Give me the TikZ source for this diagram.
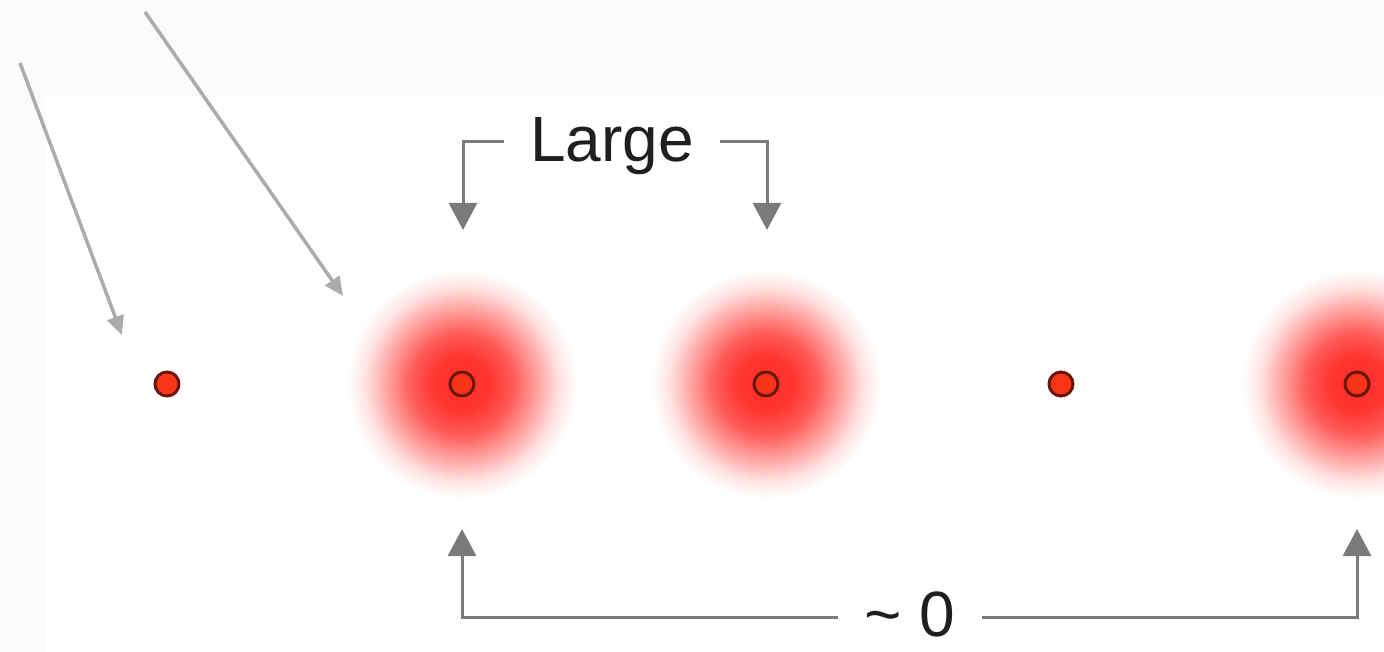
\documentclass[tikz,border=0pt]{standalone}
\usepackage{fontspec}
\setmainfont{Liberation Sans}
\usetikzlibrary{arrows.meta}
\definecolor{dotred}{RGB}{250,52,22}
\definecolor{dotedge}{RGB}{105,22,6}
\definecolor{glowred}{RGB}{255,45,40}
\pgfdeclareradialshading{glow}{\pgfpoint{0bp}{0bp}}{color(0bp)=(glowred); color(6bp)=(glowred!96!white); color(11bp)=(glowred!78!white); color(16bp)=(glowred!46!white); color(21bp)=(glowred!14!white); color(25bp)=(white); color(50bp)=(white)}

\begin{document}
\begin{tikzpicture}[x=1pt,y=-1pt,
 dot/.style={circle,draw=dotedge,fill=dotred,line width=3pt,minimum size=24pt,inner sep=0pt},
 halo/.style={shading=glow},
 pointer/.style={draw=black!33,line width=3.5pt,-{Triangle[length=19pt,width=17pt]}},
 span/.style={draw=black!52,line width=3pt,-{Triangle[length=27pt,width=28pt]}},
 lbl/.style={font=\fontsize{64}{70}\selectfont,text=black!88,inner xsep=26pt,inner ysep=1pt}]
 \useasboundingbox (0,0) rectangle (1384,652);
 \clip (0,0) rectangle (1384,652);
 \fill[black!2] (0,0) rectangle (1384,652);
 \fill[white] (45,97) rectangle (1384,652);
 % glows and dots
 \foreach \x in {462,766,1357} \shade[halo] (\x,384) circle[radius=115];
 \foreach \x [count=\i] in {167,462,766,1061,1357}
   \node[dot] (d\i) at (\x,384) {};
 % pointers from the top left
 \coordinate (p1) at (20,63);
 \coordinate (q1) at (122,335);
 \coordinate (p2) at (145,12);
 \coordinate (q2) at (343,296);
 \draw[pointer] (p1) -- (q1);
 \draw[pointer] (p2) -- (q2);
 % upper bracket
 \node[lbl,anchor=base] (large) at (612,162) {Large};
 \coordinate (ll) at (463,142);
 \coordinate (lr) at (767,142);
 \coordinate (tl) at (463,230);
 \coordinate (tr) at (767,230);
 \draw[span] (large.west |- ll) -- (ll) -- (tl);
 \draw[span] (large.east |- lr) -- (lr) -- (tr);
 % lower bracket
 \node[lbl,anchor=base] (zero) at (910,636) {\textasciitilde{} 0};
 \coordinate (bl) at (462,617);
 \coordinate (br) at (1357,617);
 \coordinate (ul) at (462,529);
 \coordinate (ur) at (1357,529);
 \draw[span] (zero.west |- bl) -- (bl) -- (ul);
 \draw[span] (zero.east |- br) -- (br) -- (ur);
\end{tikzpicture}
\end{document}
